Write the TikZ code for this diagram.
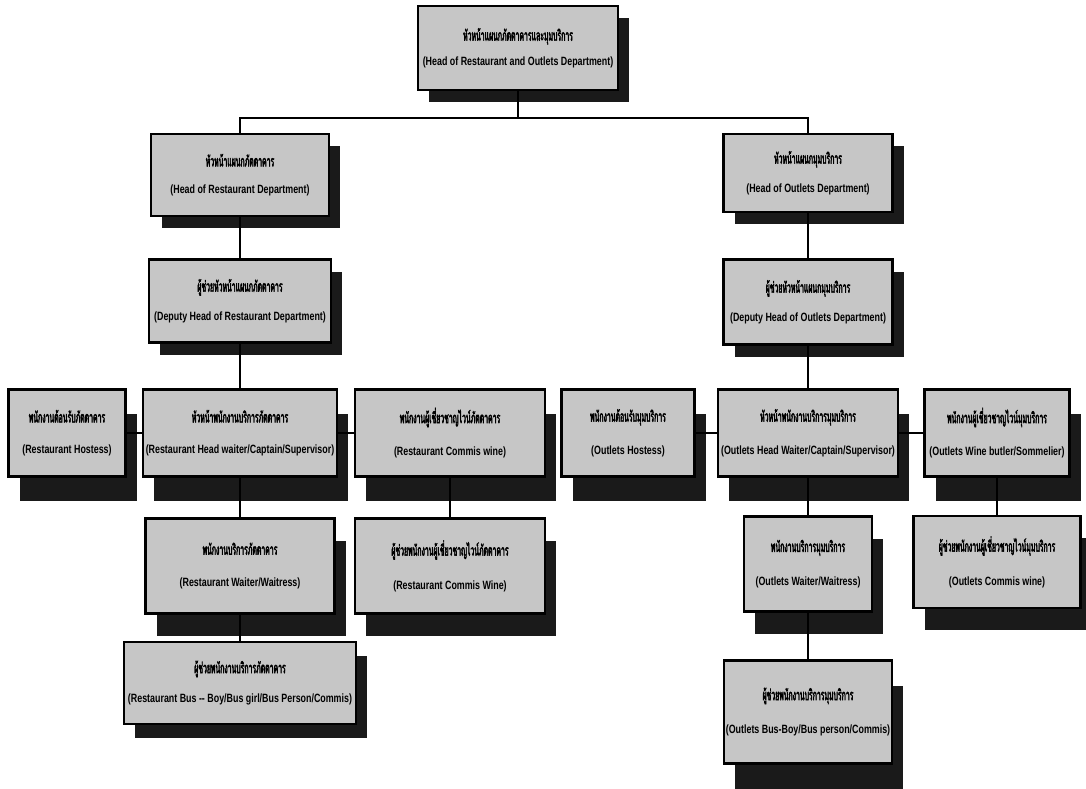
\documentclass[tikz,border=0pt]{standalone}
\usepackage{fontspec}
\setmainfont{Liberation Sans}
\newfontfamily\thaifont[Script=Thai,FakeStretch=0.46,FakeBold=2.5]{Loma}
\newfontfamily\engfont[FakeStretch=0.74]{Liberation Sans Bold}
\usetikzlibrary{shadows}
\definecolor{boxgray}{HTML}{C6C6C6}
\definecolor{shadowblack}{HTML}{1A1A1A}
\newcommand{\thline}{\thaifont\fontsize{15}{16}\selectfont}
\newcommand{\enline}{\engfont\fontsize{12}{14}\selectfont}

\begin{document}
\begin{tikzpicture}[
  x=1pt,y=-1pt,line cap=rect,
  post/.style={draw=black,line width=2.4pt,fill=boxgray,align=center,inner sep=2pt,
    drop shadow={shadow xshift=11pt,shadow yshift=#1,fill=shadowblack,opacity=1}},
  post/.default=-12pt,
  link/.style={black,line width=1.1pt},
]
  \useasboundingbox[fill=white] (0,0) rectangle (1086,789);

  % Top of the chart.
  \node[post,minimum width=200,minimum height=84] (top) at (518,48)
    {{\thline หัวหน้าแผนกภัตตาคารและมุมบริการ}\\[11pt]{\enline (Head of Restaurant and Outlets Department)}};

  % Department heads and deputies.
  \node[post,minimum width=178,minimum height=82] (rhead1) at (240,175)
    {{\thline หัวหน้าแผนกภัตตาคาร}\\[15pt]{\enline (Head of Restaurant Department)}};
  \node[post,minimum width=169,minimum height=78] (ohead1) at (808,173)
    {{\thline หัวหน้าแผนกมุมบริการ}\\[15pt]{\enline (Head of Outlets Department)}};
  \node[post,minimum width=182,minimum height=83] (rdeputy) at (240,301)
    {{\thline ผู้ช่วยหัวหน้าแผนกภัตตาคาร}\\[15pt]{\enline (Deputy Head of Restaurant Department)}};
  \node[post,minimum width=169,minimum height=85] (odeputy) at (808,302)
    {{\thline ผู้ช่วยหัวหน้าแผนกมุมบริการ}\\[15pt]{\enline (Deputy Head of Outlets Department)}};

  % Third row: hostess, head waiter, wine staff.
  \node[post=-24pt,minimum width=117,minimum height=87] (rhostess) at (67,433)
    {{\thline พนักงานต้อนรับภัตตาคาร}\\[19pt]{\enline (Restaurant Hostess)}};
  \node[post=-24pt,minimum width=194,minimum height=87] (rcaptain) at (240,433)
    {{\thline หัวหน้าพนักงานบริการภัตตาคาร}\\[19pt]{\enline (Restaurant Head waiter/Captain/Supervisor)}};
  \node[post=-24pt,minimum width=190,minimum height=87] (rwine) at (450,433)
    {{\thline พนักงานผู้เชี่ยวชาญไวน์ภัตตาคาร}\\[19pt]{\enline (Restaurant Commis wine)}};
  \node[post=-24pt,minimum width=133,minimum height=87] (ohostess) at (628,433)
    {{\thline พนักงานต้อนรับมุมบริการ}\\[19pt]{\enline (Outlets Hostess)}};
  \node[post=-24pt,minimum width=180,minimum height=87] (ocaptain) at (808,433)
    {{\thline หัวหน้าพนักงานบริการมุมบริการ}\\[19pt]{\enline (Outlets Head Waiter/Captain/Supervisor)}};
  \node[post=-24pt,minimum width=145,minimum height=87] (owine) at (997,433)
    {{\thline พนักงานผู้เชี่ยวชาญไวน์มุมบริการ}\\[19pt]{\enline (Outlets Wine butler/Sommelier)}};

  % Fourth row.
  \node[post=-22pt,minimum width=189,minimum height=95] (rwaiter) at (240,566)
    {{\thline พนักงานบริการภัตตาคาร}\\[20pt]{\enline (Restaurant Waiter/Waitress)}};
  \node[post=-22pt,minimum width=190,minimum height=95] (rcommis) at (450,566)
    {{\thline ผู้ช่วยพนักงานผู้เชี่ยวชาญไวน์ภัตตาคาร}\\[20pt]{\enline (Restaurant Commis Wine)}};
  \node[post=-22pt,minimum width=128,minimum height=95] (owaiter) at (808,564)
    {{\thline พนักงานบริการมุมบริการ}\\[20pt]{\enline (Outlets Waiter/Waitress)}};
  \node[post=-22pt,minimum width=167,minimum height=92] (ocommis) at (997,562)
    {{\thline ผู้ช่วยพนักงานผู้เชี่ยวชาญไวน์มุมบริการ}\\[20pt]{\enline (Outlets Commis wine)}};

  % Bus staff.
  \node[post=-14pt,minimum width=232,minimum height=82] (rbus) at (240,683)
    {{\thline ผู้ช่วยพนักงานบริการภัตตาคาร}\\[16pt]{\enline (Restaurant Bus -- Boy/Bus girl/Bus Person/Commis)}};
  \node[post=-25pt,minimum width=166,minimum height=103] (obus) at (808,712)
    {{\thline ผู้ช่วยพนักงานบริการมุมบริการ}\\[20pt]{\enline (Outlets Bus-Boy/Bus person/Commis)}};

  % Connectors.
  \coordinate (bus) at (518,118);
  \draw[link] (top.south) -- (bus) -| (rhead1.north);
  \draw[link] (bus) -| (ohead1.north);
  \draw[link] (rhead1) -- (rdeputy);
  \draw[link] (ohead1) -- (odeputy);
  \draw[link] (rdeputy) -- (rcaptain);
  \draw[link] (odeputy) -- (ocaptain);
  \draw[link] (rhostess) -- (rcaptain);
  \draw[link] (rcaptain) -- (rwine);
  \draw[link] (ohostess) -- (ocaptain);
  \draw[link] (ocaptain) -- (owine);
  \draw[link] (rcaptain) -- (rwaiter);
  \draw[link] (rwine) -- (rcommis);
  \draw[link] (ocaptain) -- (owaiter);
  \draw[link] (owine) -- (ocommis);
  \draw[link] (rwaiter) -- (rbus);
  \draw[link] (owaiter) -- (obus);
\end{tikzpicture}
\end{document}
